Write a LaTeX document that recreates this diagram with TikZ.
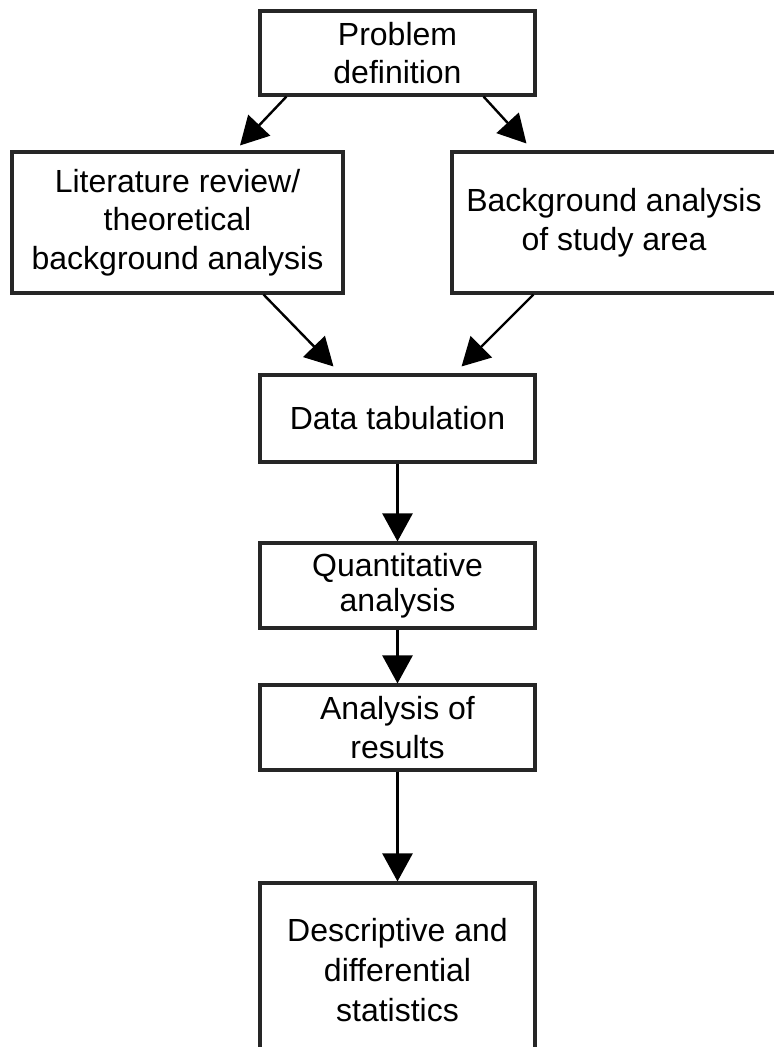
\documentclass[tikz,border=0pt]{standalone}
\usepackage{fontspec}
\setmainfont{Liberation Sans}
\usetikzlibrary{arrows.meta,calc}
\tikzset{
  box/.style={draw=black!85, line width=2.3pt, inner sep=0pt, align=center,
    font=\fontsize{24}{29}\selectfont},
  link/.style={line width=1.8pt, -{Triangle[length=21pt,width=22.5pt]}}
}
\begin{document}
\begin{tikzpicture}[x=0.75pt,y=-0.75pt]
\useasboundingbox (0,0) rectangle (774,1047);
\clip (0,0) rectangle (774,1047);
\fill[white] (0,0) rectangle (774,1047);
\node[box, minimum width=206.25pt, minimum height=63pt] (b1) at (397.5,53) {Problem\\definition};
\node[box, minimum width=248.25pt, minimum height=105.75pt] (b2) at (177.5,222.5) {Literature review/\\theoretical\\background analysis};
\node[box, minimum width=243pt, minimum height=105.75pt] (b3) at (614,222.5) {Background analysis\\of study area};
\node[box, minimum width=206.25pt, minimum height=65.25pt] (b4) at (397.5,418.5) {Data tabulation};
\node[box, minimum width=206.25pt, minimum height=63.75pt, font=\fontsize{24}{26.5}\selectfont] (b5) at (397.5,585.5) {Quantitative\\analysis};
\node[box, minimum width=206.25pt, minimum height=63.75pt] (b6) at (397.5,727.5) {Analysis of\\results};
\node[box, minimum width=206.25pt, minimum height=130.5pt, font=\fontsize{24}{30}\selectfont] (b7) at (397.5,970) {Descriptive and\\differential\\statistics};
\draw[link] ($(b1.south west)+(28,0)$) -- ($(b2.north)+(62.5,-5)$);
\draw[link] ($(b1.south east)+(-53,0)$) -- ($(b3.north west)+(76,-7)$);
\draw[link] ($(b2.south east)+(-81,0)$) -- ($(b4.north west)+(75,-7)$);
\draw[link] ($(b3.south west)+(83,0)$) -- ($(b4.north east)+(-75,-7)$);
\draw[link] (b4.south) -- (b5.north);
\draw[link] (b5.south) -- (b6.north);
\draw[link] (b6.south) -- (b7.north);
\end{tikzpicture}
\end{document}
